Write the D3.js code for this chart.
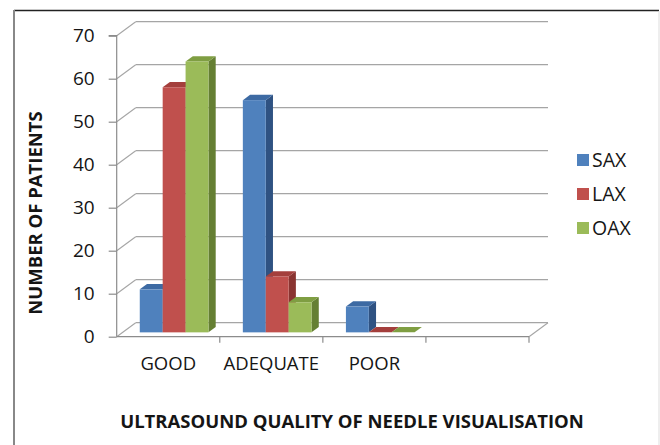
<!DOCTYPE html>
<html>
<head>
<meta charset="utf-8">
<script src="https://cdn.jsdelivr.net/npm/d3@7"></script>
<style>
  body { margin: 0; background: #fff; }
  svg text { font-family: "Open Sans", Lato, sans-serif; fill: #151515; }
</style>
</head>
<body>
<div id="chart"></div>
<script>
const categories = ["GOOD", "ADEQUATE", "POOR"];
const seriesNames = ["SAX", "LAX", "OAX"];
const sax = [10, 54, 6];
const lax = [57, 13, 0];
const oax = [63, 7, 0];
const yTicks = [0, 10, 20, 30, 40, 50, 60, 70];

const colors = {
    SAX: { front: "#4f81bd", top: "#3d6aa3", side: "#2f5282" },
    LAX: { front: "#c0504d", top: "#a43f3c", side: "#8a3431" },
    OAX: { front: "#9bbb59", top: "#7f9e42", side: "#657f33" }
};

const width = 660, height = 445;
// 3D depth offset of the back wall
const depth = { dx: 19, dy: -14 };
// bars sit between these depth fractions
const barD0 = 0.31, barD1 = 0.69;

const svg = d3.select("#chart").append("svg")
    .attr("width", width)
    .attr("height", height);

// outer frame
svg.append("line").attr("x1", 14).attr("y1", 10.5).attr("x2", 659).attr("y2", 10.5)
    .attr("stroke", "#222").attr("stroke-width", 1.5);
svg.append("line").attr("x1", 14).attr("y1", 10).attr("x2", 14).attr("y2", 445)
    .attr("stroke", "#888").attr("stroke-width", 2);
svg.append("line").attr("x1", 659).attr("y1", 11).attr("x2", 659).attr("y2", 445)
    .attr("stroke", "#ddd").attr("stroke-width", 1);

// one empty slot after POOR, like the original
const x = d3.scaleBand()
    .domain([...categories, " "])
    .range([116.7, 529])
    .paddingInner(0)
    .paddingOuter(0);

const y = d3.scaleLinear()
    .domain([0, 70])
    .range([336.7, 35.7]);

const series = [
    { name: "SAX", values: sax },
    { name: "LAX", values: lax },
    { name: "OAX", values: oax }
];

const barW = x.bandwidth() / (series.length + 1.5);
const groupPad = (x.bandwidth() - barW * series.length) / 2;

const gridColor = "#a5a5a5";
const x0 = x.range()[0], x1 = x.range()[1];

// back wall gridlines + left wall diagonals
const grid = svg.append("g");
yTicks.forEach(t => {
    const yy = y(t);
    grid.append("line")
        .attr("x1", x0 + depth.dx).attr("y1", yy + depth.dy)
        .attr("x2", x1 + depth.dx).attr("y2", yy + depth.dy)
        .attr("stroke", gridColor).attr("stroke-width", 1.3);
    grid.append("line")
        .attr("x1", x0).attr("y1", yy)
        .attr("x2", x0 + depth.dx).attr("y2", yy + depth.dy)
        .attr("stroke", gridColor).attr("stroke-width", 1.1);
});
// floor right edge
grid.append("line")
    .attr("x1", x1).attr("y1", y(0))
    .attr("x2", x1 + depth.dx).attr("y2", y(0) + depth.dy)
    .attr("stroke", gridColor).attr("stroke-width", 1.1);

// y axis on the front plane
const yAxis = d3.axisLeft(y).tickValues(yTicks).tickSize(8).tickPadding(14);
const yg = svg.append("g")
    .attr("transform", `translate(${x0},0)`)
    .call(yAxis);
yg.selectAll("line, path").attr("stroke", "#8c8c8c").attr("stroke-width", 1.2);
yg.select(".domain").attr("d", `M-8,${y(70)}H0V${y(0)}`);
yg.selectAll("text").style("font-size", "19px").attr("fill", "#151515");

// x axis on the front plane
const xAxis = d3.axisBottom(x).tickSize(0).tickPadding(20);
const xg = svg.append("g")
    .attr("transform", `translate(0,${y(0)})`)
    .call(xAxis);
xg.select(".domain").attr("d", `M${x0},0H${x1}`).attr("stroke", "#8c8c8c").attr("stroke-width", 1.2);
xg.selectAll("text").style("font-size", "18.5px").attr("fill", "#151515");
xg.selectAll(".tick-mark")
    .data([...categories, " "].slice(1).concat(["end"]))
    .enter().append("line")
    .attr("x1", (d, i) => x0 + x.step() * (i + 1))
    .attr("x2", (d, i) => x0 + x.step() * (i + 1))
    .attr("y1", 0).attr("y2", 6)
    .attr("stroke", "#8c8c8c").attr("stroke-width", 1.2);

// 3D bars
const ox0 = depth.dx * barD0, oy0 = depth.dy * barD0;
const ox1 = depth.dx * barD1, oy1 = depth.dy * barD1;
const bars = svg.append("g");
categories.forEach((cat, ci) => {
    series.forEach((s, si) => {
        const v = s.values[ci];
        const c = colors[s.name];
        const left = x(cat) + groupPad + si * barW + ox0;
        const right = left + barW;
        const bottom = y(0) + oy0;
        const top = y(v) + oy0;
        const ddx = ox1 - ox0, ddy = oy1 - oy0;
        // right side
        bars.append("path")
            .attr("d", `M${right},${bottom}L${right + ddx},${bottom + ddy}L${right + ddx},${top + ddy}L${right},${top}Z`)
            .attr("fill", c.side);
        // top
        bars.append("path")
            .attr("d", `M${left},${top}L${left + ddx},${top + ddy}L${right + ddx},${top + ddy}L${right},${top}Z`)
            .attr("fill", c.top);
        // front
        if (v > 0) {
            bars.append("rect")
                .attr("x", left).attr("y", top)
                .attr("width", barW).attr("height", bottom - top)
                .attr("fill", c.front);
        }
    });
});

// legend
const legend = svg.append("g").attr("transform", "translate(577,0)");
const legendY = d3.scalePoint().domain(seriesNames).range([160, 228]);
seriesNames.forEach(n => {
    legend.append("rect")
        .attr("x", 0).attr("y", legendY(n) - 6)
        .attr("width", 12).attr("height", 12)
        .attr("fill", colors[n].front);
    legend.append("text")
        .attr("x", 15).attr("y", legendY(n))
        .attr("dy", "0.36em")
        .style("font-size", "19.5px")
        .text(n);
});

// axis titles
svg.append("text")
    .attr("transform", "translate(42,213) rotate(-90)")
    .attr("text-anchor", "middle")
    .style("font-size", "18.5px")
    .style("font-weight", "bold")
    .text("NUMBER OF PATIENTS");

svg.append("text")
    .attr("x", 352).attr("y", 428)
    .attr("text-anchor", "middle")
    .style("font-size", "18.5px")
    .style("font-weight", "bold")
    .text("ULTRASOUND QUALITY OF NEEDLE VISUALISATION");
</script>
</body>
</html>
